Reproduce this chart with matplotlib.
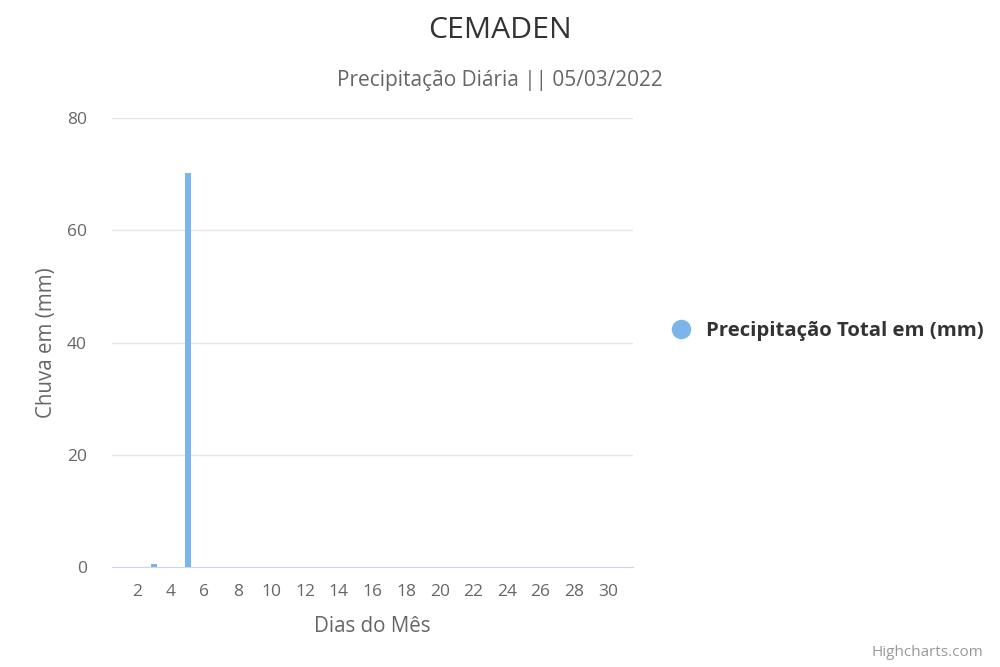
import matplotlib
matplotlib.use("Agg")
from matplotlib import pyplot as plt
from matplotlib.lines import Line2D

dias = list(range(1, 32))
chuva = [0, 0, 0.6, 0, 70.2] + [0] * 26
ticks = list(range(2, 31, 2))

plt.rcParams['font.family'] = ['Open Sans', 'DejaVu Sans']

fig = plt.figure(figsize=(10, 6.67), dpi=100)
ax = fig.add_axes([0.112, 0.15, 0.521, 0.673])

ax.bar(dias, chuva, width=0.36, color='#7cb5ec', zorder=3)

ax.set_xlim(0.5, 31.5)
ax.set_ylim(0, 80)
ax.set_yticks([0, 20, 40, 60, 80])
ax.set_xticks(ticks)
ax.grid(axis='y', color='#e6e6e6', linewidth=1, zorder=0)
for s in ['top', 'right', 'left']:
    ax.spines[s].set_visible(False)
ax.spines['bottom'].set_color('#ccd6eb')
ax.tick_params(axis='y', length=0, labelsize=12.5, labelcolor='#666666', pad=18)
ax.tick_params(axis='x', length=0, labelsize=12.5, labelcolor='#666666', pad=12)

ax.set_xlabel("Dias do Mês", fontsize=14.8, color='#666666', labelpad=12)
ax.set_ylabel("Chuva em (mm)", fontsize=14.8, color='#666666', labelpad=7)

fig.text(0.5, 0.954, "CEMADEN", ha='center', va='center', fontsize=21.7, color='#333333')
fig.text(0.5, 0.879, "Precipitação Diária || 05/03/2022", ha='center', va='center',
         fontsize=15, color='#666666')

handle = Line2D([], [], marker='o', linestyle='', markersize=13, color='#7cb5ec')
fig.legend([handle], ["Precipitação Total em (mm)"], loc='center left',
           bbox_to_anchor=(0.642, 0.503), frameon=False, handletextpad=0.25,
           prop={'weight': 'bold', 'size': 14.7}, labelcolor='#333333')

fig.text(0.983, 0.01, "Highcharts.com", ha='right', va='bottom', fontsize=11, color='#999999')

plt.savefig("out.png", dpi=100)
